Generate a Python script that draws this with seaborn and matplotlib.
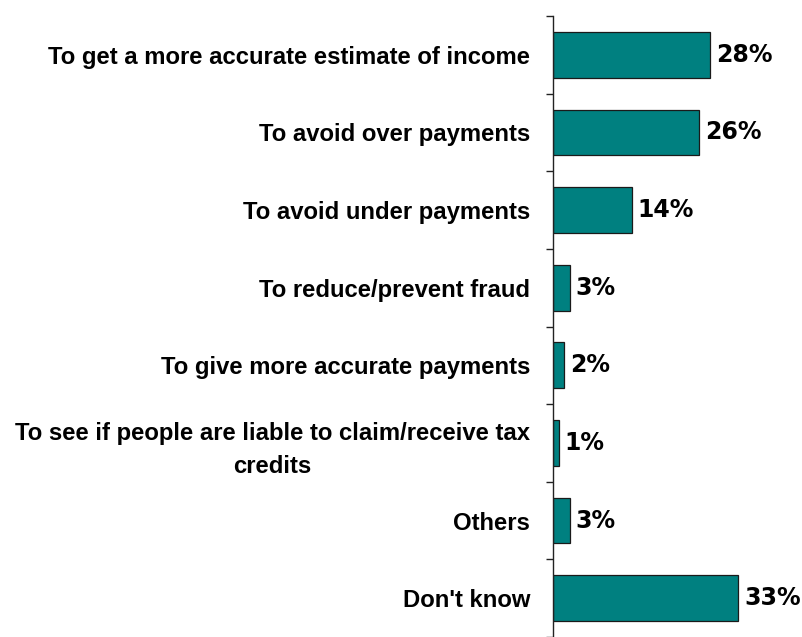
import matplotlib
matplotlib.use("Agg")
import matplotlib.pyplot as plt
import seaborn as sns
import pandas as pd

categories = [
    "To get a more accurate estimate of income",
    "To avoid over payments",
    "To avoid under payments",
    "To reduce/prevent fraud",
    "To give more accurate payments",
    "To see if people are liable to claim/receive tax\ncredits",
    "Others",
    "Don't know",
]
values = [28, 26, 14, 3, 2, 1, 3, 33]

df = pd.DataFrame({"reason": categories, "pct": values})

sns.set_theme(style="white")
plt.rcParams["font.family"] = ["Liberation Sans", "DejaVu Sans"]

W, H = 803, 637
fig = plt.figure(figsize=(W / 100, H / 100), dpi=100)
# axes: left edge is the vertical axis line, top at first category boundary
ax = fig.add_axes([553 / W, 0, (W - 553) / W, (H - 16) / H])

sns.barplot(data=df, y="reason", x="pct", orient="h", color="#008080",
            saturation=1, width=0.59, edgecolor="#1a1a1a", linewidth=0.9, ax=ax)

pitch = 78.3
ax.set_ylim(-0.5 + (H - 16) / pitch, -0.5)
ax.set_xlim(0, (W - 553) / 5.62)

for sp in ["top", "right", "bottom"]:
    ax.spines[sp].set_visible(False)
ax.spines["left"].set_color("#222222")
ax.spines["left"].set_linewidth(1.0)

ax.set_xticks([])
ax.set_xlabel("")
ax.set_ylabel("")
ax.set_yticks(range(len(categories)))
ax.set_yticklabels(categories, fontsize=17.2, fontweight="bold", color="black",
                   multialignment="center", linespacing=1.55)
ax.tick_params(axis="y", which="major", length=0, pad=16.5)
ax.set_yticks([i + 0.5 for i in range(-1, len(categories))], minor=True)
ax.tick_params(axis="y", which="minor", length=5, width=1.0, direction="out",
               color="#222222", left=True)

for i, v in enumerate(values):
    ax.text(v + 1.0, i, f"{v}%", va="center", ha="left",
            fontsize=17, fontweight="bold", family="DejaVu Sans",
            color="black")

fig.savefig("out.png", dpi=100)
